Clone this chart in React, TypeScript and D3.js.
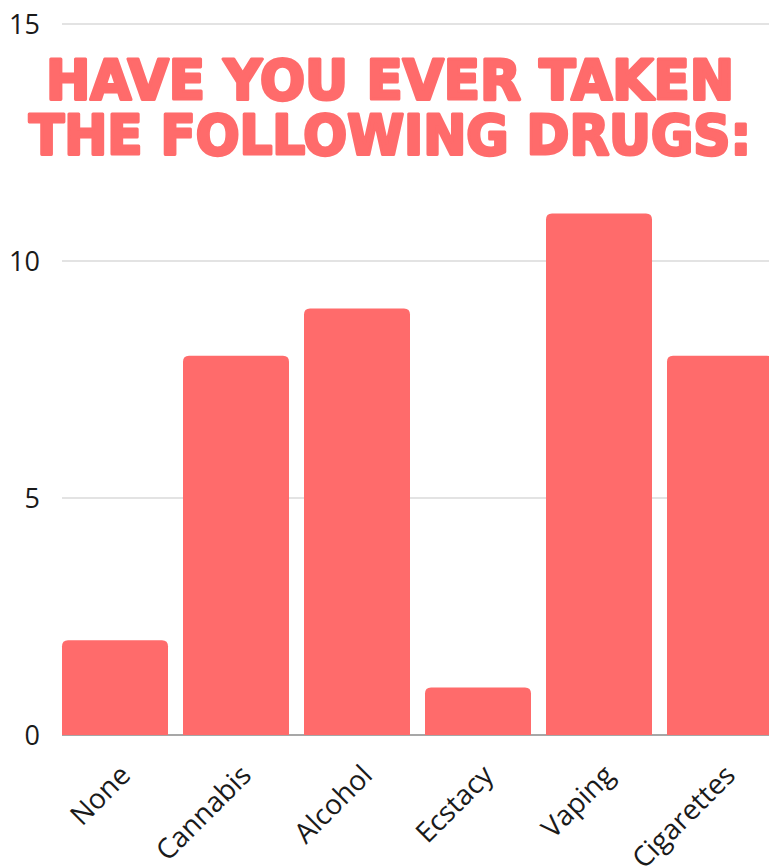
import React from "react";
import * as d3 from "d3";

const categories = ["None", "Cannabis", "Alcohol", "Ecstacy", "Vaping", "Cigarettes"];
const values = [2, 8, 9, 1, 11, 8];
const yTicks = [0, 5, 10, 15];
const titleLines = ["HAVE YOU EVER TAKEN", "THE FOLLOWING DRUGS:"];

const W = 769;
const H = 867;
const BAR = "#FF6B6B";

function topRounded(x: number, y: number, w: number, h: number, r: number) {
  const rr = Math.min(r, w / 2, h);
  return `M${x},${y + h}V${y + rr}Q${x},${y} ${x + rr},${y}H${x + w - rr}Q${x + w},${y} ${x + w},${y + rr}V${y + h}Z`;
}

export default function App() {
  const x = d3.scaleBand<string>().domain(categories).range([62, 773]).paddingInner(0.124).paddingOuter(0);
  const y = d3.scaleLinear().domain([0, 15]).range([735, 24]);
  const font = "'Open Sans', 'Noto Sans', sans-serif";
  const titleX = [[46, 688, 99], [29, 722, 154]];
  return (
    <svg width={W} height={H} style={{ position: "absolute", left: 0, top: 0, display: "block" }}>
      <rect width={W} height={H} fill="#fff" />
      {yTicks.filter((t) => t > 0).map((t) => (
        <line key={t} x1={62} x2={W} y1={y(t)} y2={y(t)} stroke="#c8c8c8" strokeWidth={1.2} />
      ))}
      <line x1={62} x2={W} y1={y(0)} y2={y(0)} stroke="#8a8a8a" strokeWidth={1.5} />
      {yTicks.map((t) => (
        <text key={t} x={40} y={y(t)} dy="0.36em" textAnchor="end" fontFamily={font} fontSize={27} fill="#1a1a1a">
          {t}
        </text>
      ))}
      {titleLines.map((line, i) => (
        <text
          key={line}
          x={titleX[i][0]}
          y={titleX[i][2]}
          textLength={titleX[i][1]}
          lengthAdjust="spacingAndGlyphs"
          fontFamily="'DejaVu Sans', sans-serif"
          fontWeight="bold"
          fontSize={55}
          fill={BAR}
          stroke={BAR}
          strokeWidth={3.2}
          strokeLinejoin="round"
        >
          {line}
        </text>
      ))}
      {categories.map((c, i) => (
        <path key={c} d={topRounded(x(c)!, y(values[i]), x.bandwidth(), y(0) - y(values[i]), 6)} fill={BAR} />
      ))}
      {categories.map((c) => (
        <text
          key={c}
          transform={`translate(${x(c)! + x.bandwidth() / 2 + 17},777) rotate(-45)`}
          textAnchor="end"
          fontFamily={font}
          fontSize={28}
          fill="#1a1a1a"
        >
          {c}
        </text>
      ))}
    </svg>
  );
}
